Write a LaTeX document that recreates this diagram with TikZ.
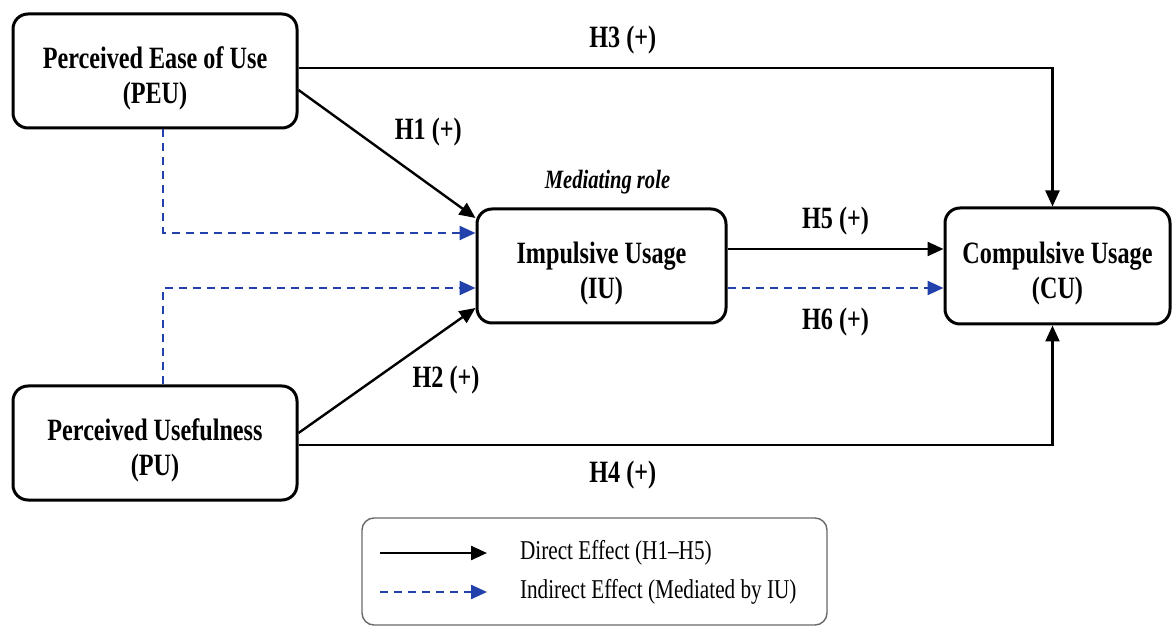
\documentclass[tikz,border=0pt]{standalone}
\usepackage{fontspec}
\setmainfont{Liberation Serif}[FakeStretch=0.78]
\usetikzlibrary{arrows.meta,calc,positioning}
\definecolor{ieblue}{RGB}{35,65,170}
\definecolor{keygray}{RGB}{105,105,105}
\newcommand{\toplift}{\rule{0pt}{18pt}}

\begin{document}
\begin{tikzpicture}[x=0.5pt,y=-0.5pt,
  construct/.style={draw,line width=1.5pt,rounded corners=7.5pt,align=center,
    font=\bfseries\fontsize{15.5}{17.5}\selectfont},
  direct/.style={-{Triangle[length=8pt,width=7pt]},line width=1.2pt},
  indirect/.style={direct,ieblue,dash pattern=on 4pt off 3pt},
  hyp/.style={text=black,font=\bfseries\fontsize{15.5}{17}\selectfont}]

\useasboundingbox (0,0) rectangle (1175,626);

\node [construct,minimum width=142pt,minimum height=57pt] (PEU) at (155,71)
  {\toplift Perceived Ease of Use\\(PEU)};
\node [construct,minimum width=142pt,minimum height=57pt,below of=PEU,node distance=186pt] (PU)
  {\toplift Perceived Usefulness\\(PU)};
\node [construct,minimum width=124.5pt,minimum height=57pt] (IU) at (601.5,266)
  {\toplift Impulsive Usage\\(IU)};
\node [construct,minimum width=112.5pt,minimum height=58pt,right of=IU,node distance=228pt] (CU)
  {\toplift Compulsive Usage\\(CU)};
\node [above=3pt of IU,xshift=3pt,font=\bfseries\itshape\fontsize{13.2}{15}\selectfont] (MR)
  {Mediating role};

\draw [direct] ($(PEU.east)+(0,19)$) -- node[above right,hyp] {H1 (+)} ($(IU.west)+(0,-48)$);
\draw [direct] ($(PU.east)+(0,-10)$) -- node[pos=.6,below right,hyp] {H2 (+)} ($(IU.west)+(0,42)$);
\draw [direct] ($(PEU.east)+(0,-3)$) -| node[pos=.215,above=3pt,hyp] {H3 (+)} ($(CU.north)+(-5,0)$);
\draw [direct] ($(PU.east)+(0,2)$) -| node[pos=.215,below=4pt,hyp] {H4 (+)} ($(CU.south)+(-5,0)$);

\coordinate (h5) at ($(IU.east)+(0,-17)$);
\coordinate (h6) at ($(IU.east)+(0,22)$);
\draw [direct] (h5) -- node[above=3pt,hyp] {H5 (+)} (h5 -| CU.west);
\draw [indirect] (h6) -- node[below=6pt,hyp] {H6 (+)} (h6 -| CU.west);

\draw [indirect] ($(PEU.south)+(8,0)$) |- ($(IU.west)+(0,-33)$);
\draw [indirect] ($(PU.north)+(8,0)$) |- ($(IU.west)+(0,22)$);

% key
\node [draw=keygray,line width=0.7pt,rounded corners=6pt,minimum width=232.5pt,
  minimum height=53.5pt] (key) at (594.5,571.5) {};
\coordinate (kd0) at (380,553);
\coordinate (kd1) at (487,553);
\coordinate (ki0) at (380,592);
\coordinate (ki1) at (487,592);
\draw [direct] (kd0) -- (kd1);
\draw [indirect] (ki0) -- (ki1);
\node [anchor=west,font=\fontsize{13.6}{15}\selectfont] (kdt) at (513,553) {Direct Effect (H1--H5)};
\node [anchor=west,font=\fontsize{13.6}{15}\selectfont] (kit) at (513,592) {Indirect Effect (Mediated by IU)};

\end{tikzpicture}
\end{document}
